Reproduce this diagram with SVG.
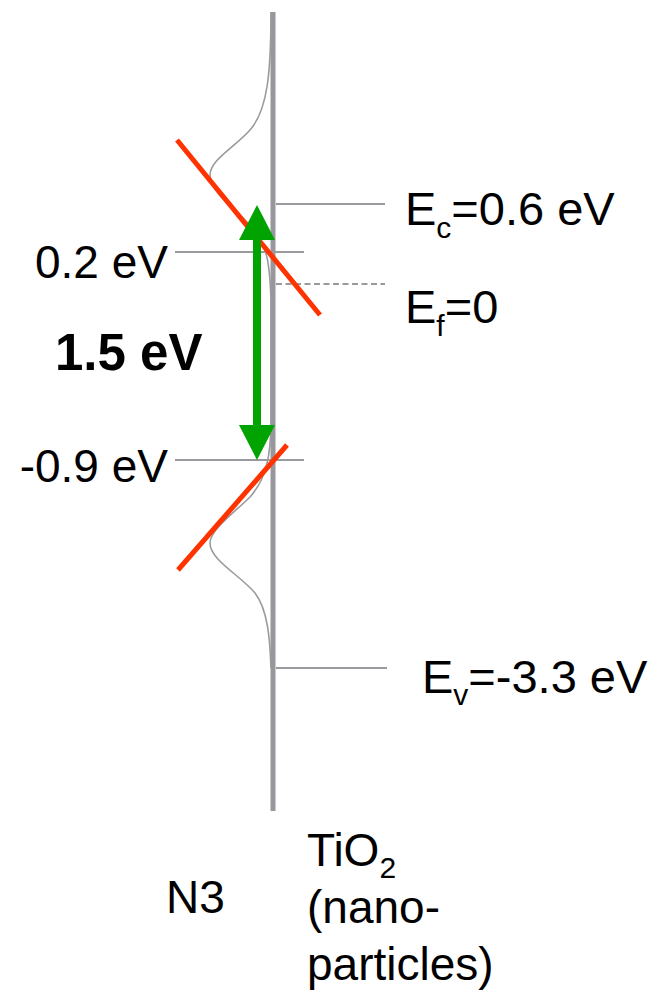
<svg xmlns="http://www.w3.org/2000/svg" width="651" height="990" viewBox="0 0 651 990">
<style>
.t{font-family:"Liberation Sans",Arial,sans-serif;font-size:46px;fill:#000}
.r{font-size:47px}
.b{font-size:51px;font-weight:bold}
.s{font-size:30px}
.lvl{stroke:#9a9a9e;stroke-width:2;fill:none}
.red{stroke:#ff3300;stroke-width:5;fill:none}
</style>
<rect width="651" height="990" fill="#fff"/>
<g id="axis">
<line x1="273" y1="12" x2="273" y2="811" stroke="#98989c" stroke-width="5"/>
</g>
<g id="dos">
<path d="M271,12 C271,70 268,110 250,130 C235,147 210,160 210,175 C210,195 245,215 258,235 C268,250 270,270 271,300 L271,420 C271,460 265,480 250,497 C235,512 210,530 210,543 C210,560 240,575 255,593 C268,610 270,640 271,668" stroke="#9a9a9e" stroke-width="1.6" fill="none"/>
</g>
<g id="levels">
<line class="lvl" x1="276" y1="204" x2="385" y2="204"/>
<line class="lvl" x1="175" y1="252" x2="304" y2="252"/>
<line class="lvl" x1="276" y1="284" x2="385" y2="284" stroke-dasharray="6 3.5" stroke-width="1.6"/>
<line class="lvl" x1="175" y1="460" x2="304" y2="460"/>
<line class="lvl" x1="276" y1="668" x2="387" y2="668"/>
</g>
<g id="tangents">
<line class="red" x1="177" y1="140" x2="320" y2="315"/>
<line class="red" x1="287" y1="445" x2="178" y2="570"/>
</g>
<g id="gap-arrow">
<line x1="257" y1="238" x2="257" y2="427" stroke="#00a300" stroke-width="8"/>
<polygon points="257,205 275,240 239,240" fill="#00a300"/>
<polygon points="257,460 275,425 239,425" fill="#00a300"/>
</g>
<g id="labels">
<text class="t" x="168" y="278" text-anchor="end">0.2 eV</text>
<text class="t b" x="55" y="370">1.5 eV</text>
<text class="t" x="168" y="482" text-anchor="end">-0.9 eV</text>
<text class="t r" x="405" y="225">E<tspan class="s" dy="13">c</tspan><tspan dy="-13">=0.6 eV</tspan></text>
<text class="t r" x="405" y="323">E<tspan class="s" dy="13">f</tspan><tspan dy="-13">=0</tspan></text>
<text class="t r" x="422" y="693">E<tspan class="s" dy="12">v</tspan><tspan dy="-12">=-3.3 eV</tspan></text>
<text class="t" x="166" y="913">N3</text>
<text class="t" x="307" y="866">TiO<tspan class="s" dy="12">2</tspan></text>
<text class="t" x="307" y="923">(nano-</text>
<text class="t" x="307" y="980">particles)</text>
</g>
</svg>
